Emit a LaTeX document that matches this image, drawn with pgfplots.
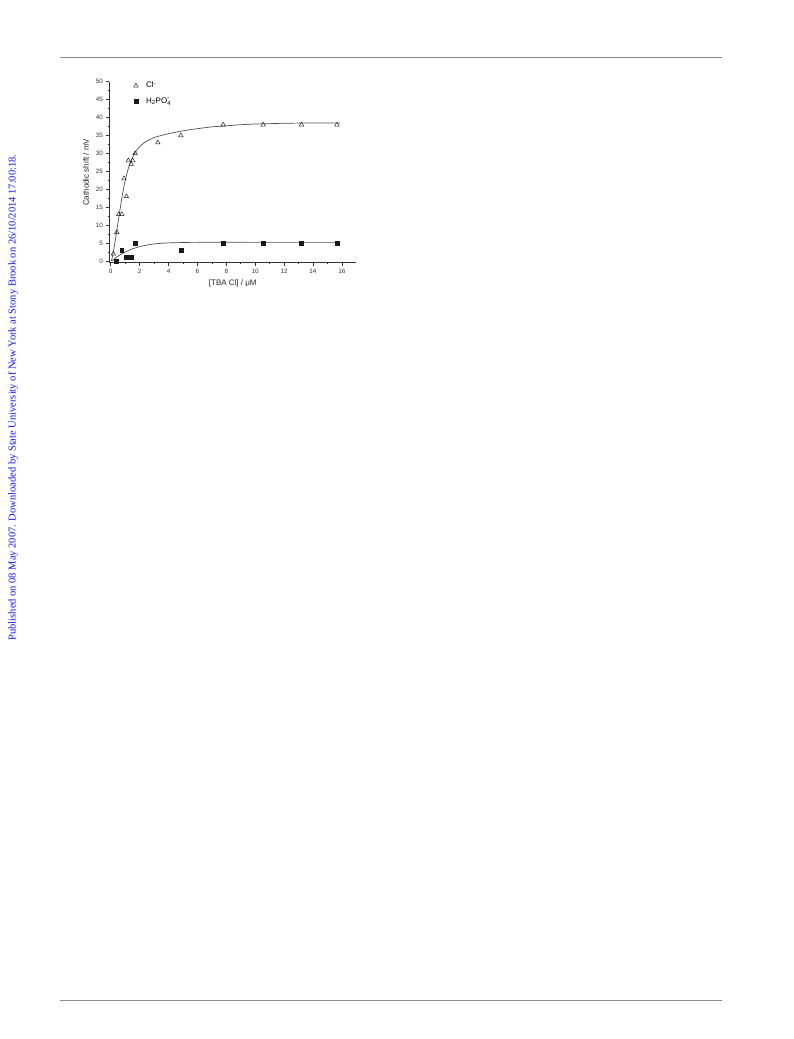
\documentclass[border=0pt]{standalone}
\usepackage{pgfplots}
\pgfplotsset{compat=1.18}
\usepackage{amsmath}
\usepackage{fontspec}
\setmainfont{Liberation Sans}
\newfontfamily\seriffont{Liberation Serif}
\definecolor{wm}{RGB}{20,20,235}
\definecolor{rulegray}{RGB}{140,140,140}
\definecolor{fitgray}{RGB}{80,80,80}
\begin{document}
\begin{tikzpicture}
\useasboundingbox (0pt,0pt) rectangle (793pt,1039pt);
\fill[white] (0pt,0pt) rectangle (793pt,1039pt);
\draw[rulegray, line width=0.9pt] (60pt,982pt) -- (722pt,982pt);
\draw[rulegray, line width=0.9pt] (60pt,38.5pt) -- (722pt,38.5pt);
\node[rotate=90, text=wm, font=\seriffont\fontsize{10.5}{12}\selectfont, inner sep=0pt] at (13pt,641.5pt)
  {Published on 08 May 2007. Downloaded by State University of New York at Stony Brook on 26/10/2014 17:00:18.};
\begin{axis}[
  scale only axis,
  width=247pt, height=181.1pt,
  at={(109.3pt,776.2pt)}, anchor=south west,
  xmin=-0.1, xmax=17, ymin=-0.5, ymax=50,
  axis lines*=left,
  axis line style={black!80, line width=0.6pt},
  tick align=outside,
  major tick length=3pt, minor tick length=1.6pt,
  tick style={black!80, line width=0.5pt},
  xtick={0,2,...,16}, ytick={0,5,...,50},
  minor x tick num=1, minor y tick num=1,
  tick label style={font=\fontsize{6.3}{7}\selectfont, text=black!80},
  /pgf/number format/assume math mode=true,
  xlabel={[TBA Cl] / μM},
  ylabel={Cathodic shift / mV},
  label style={font=\fontsize{8}{9}\selectfont, text=black!85},
  xlabel style={at={(axis description cs:0.5,-0.075)}, anchor=north},
  legend style={draw=none, fill=none, at={(rel axis cs:0.09,1.015)}, anchor=north west,
    font=\fontsize{8}{9}\selectfont, row sep=4pt, inner sep=1pt},
  legend image code/.code={\draw[#1] plot coordinates {(3pt,0pt)}; \path (0pt,0pt) (11pt,0pt);},
  legend cell align=left,
  clip=false,
]
\addplot[fitgray, line width=0.7pt, smooth, forget plot] coordinates {
(0.05,0) (0.2,3) (0.4,8) (0.6,13.3) (0.8,18.3) (1.0,22.4) (1.2,25.6) (1.4,27.9) (1.6,29.6) (1.8,30.9)
(2.0,31.9) (2.4,33.2) (3.0,34.4) (3.5,35.0) (4,35.5) (5,36.3) (6,36.9) (7,37.4) (8,37.7) (9,38.0)
(10,38.2) (11,38.3) (12,38.4) (14,38.5) (15.9,38.5)};
\addplot[fitgray, line width=0.7pt, smooth, forget plot] coordinates {
(0.05,0) (0.3,0.7) (0.6,1.6) (1,2.5) (1.5,3.4) (2,4.0) (2.5,4.45) (3,4.75) (3.5,4.95) (4,5.05)
(5,5.15) (6,5.2) (10,5.2) (15.9,5.2)};
\addplot[only marks, mark=triangle, mark size=2.6pt, mark options={black!85, line width=0.5pt, fill=white}] coordinates {
(0.18,2) (0.42,8) (0.55,13) (0.76,13) (0.92,23) (1.08,18) (1.22,28) (1.41,27) (1.52,28) (1.69,30)
(3.26,33) (4.85,35) (7.78,38) (10.55,38) (13.2,38) (15.66,38)};
\addlegendentry{Cl$^{\text{-}}$}
\addplot[only marks, mark=square*, mark size=1.9pt, mark options={black!90, fill=black!90}] coordinates {
(0.35,0) (0.76,3) (1.08,1) (1.25,1) (1.41,1) (1.69,5) (4.85,3) (7.78,5) (10.55,5) (13.2,5) (15.66,5)};
\addlegendentry{$\text{H}_{\text{2}}\text{PO}_{\text{4}}^{\text{-}}$}
\end{axis}
\end{tikzpicture}
\end{document}
